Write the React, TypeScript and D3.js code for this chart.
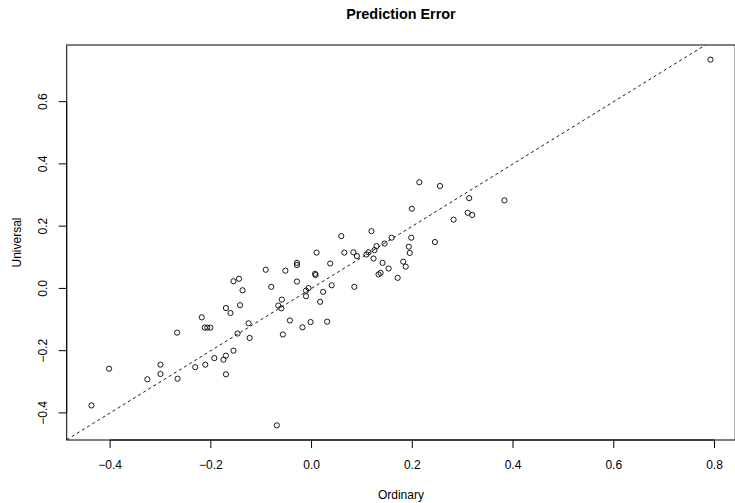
import React from "react";
import * as d3 from "d3";

// Prediction errors of the two models, one entry per observation
const ordinary: number[] = [
  -0.437, -0.402, -0.326, -0.300, -0.300, -0.266, -0.231, -0.211, -0.193, -0.175,
  -0.170, -0.155, -0.170, -0.069, -0.267, -0.218, -0.212, -0.207, -0.201, -0.170,
  -0.161, -0.142, -0.155, -0.144, -0.137, -0.125, -0.147, -0.123, -0.091, -0.080,
  -0.052, -0.029, -0.029, -0.029, 0.010, 0.007, 0.008, 0.037, 0.065, 0.083,
  0.090, 0.109, 0.113, -0.043, -0.018, -0.002, 0.031, -0.057, -0.059, -0.066,
  -0.060, -0.006, -0.011, -0.011, 0.023, 0.040, 0.017, 0.085, 0.059, 0.119,
  0.199, 0.159, 0.145, 0.129, 0.125, 0.123, 0.141, 0.153, 0.137, 0.133,
  0.171, 0.182, 0.187, 0.193, 0.195, 0.198, 0.245, 0.282, 0.310, 0.319,
  0.313, 0.214, 0.255, 0.383, 0.792,
];

const universal: number[] = [
  -0.376, -0.258, -0.292, -0.245, -0.275, -0.290, -0.253, -0.245, -0.224, -0.229,
  -0.216, -0.200, -0.276, -0.440, -0.142, -0.093, -0.126, -0.126, -0.126, -0.063,
  -0.079, -0.054, 0.023, 0.031, -0.006, -0.112, -0.145, -0.159, 0.060, 0.005,
  0.057, 0.082, 0.075, 0.022, 0.115, 0.047, 0.043, 0.080, 0.115, 0.116,
  0.104, 0.109, 0.116, -0.103, -0.125, -0.108, -0.107, -0.148, -0.036, -0.055,
  -0.064, 0.001, -0.007, -0.025, -0.011, 0.010, -0.043, 0.005, 0.168, 0.184,
  0.256, 0.163, 0.144, 0.136, 0.123, 0.096, 0.082, 0.064, 0.050, 0.045,
  0.034, 0.086, 0.070, 0.134, 0.114, 0.163, 0.149, 0.221, 0.243, 0.236,
  0.290, 0.341, 0.329, 0.283, 0.735,
];

const xTicks: number[] = [-0.4, -0.2, 0.0, 0.2, 0.4, 0.6, 0.8];
const yTicks: number[] = [-0.4, -0.2, 0.0, 0.2, 0.4, 0.6];

const title = "Prediction Error";
const xLabel = "Ordinary";
const yLabel = "Universal";

const W = 735;
const H = 503;
const plot = { left: 66.7, right: 735.2, top: 45, bottom: 440 };
const font = "'Liberation Sans', Arial, Helvetica, sans-serif";

// Extend a range by 4% on each side, as base graphics does
function padded(values: number[]): [number, number] {
  const [lo, hi] = d3.extent(values) as [number, number];
  const p = (hi - lo) * 0.04;
  return [lo - p, hi + p];
}

export default function App() {
  const x = d3.scaleLinear().domain(padded(ordinary)).range([plot.left, plot.right]);
  const y = d3.scaleLinear().domain(padded(universal)).range([plot.bottom, plot.top]);
  const fmt = d3.format(".1f");
  const fmtTick = (v: number) => fmt(v).replace("-", "\u2212");

  // Reference line y = x across the visible region
  const [x0, x1] = x.domain();
  const [y0, y1] = y.domain();
  const lo = Math.max(x0, y0);
  const hi = Math.min(x1, y1);

  const tickLen = 8;
  const points = ordinary.map((v, i) => ({ o: v, u: universal[i] }));

  return (
    <svg
      width={W}
      height={H}
      style={{ position: "absolute", left: 0, top: 0, background: "#fff" }}
      fontFamily={font}
    >
      <rect x={0} y={0} width={W} height={H} fill="#fff" />
      <defs>
        <clipPath id="plot-area">
          <rect x={plot.left} y={plot.top} width={plot.right - plot.left} height={plot.bottom - plot.top} />
        </clipPath>
      </defs>

      <text x={(plot.left + plot.right) / 2} y={19.3} textAnchor="middle" fontSize={14.4} fontWeight="bold" fill="#000">
        {title}
      </text>

      {/* diagonal reference line */}
      <line
        x1={x(lo)}
        y1={y(lo)}
        x2={x(hi)}
        y2={y(hi)}
        stroke="#000"
        strokeWidth={0.9}
        strokeDasharray="3,3"
        clipPath="url(#plot-area)"
      />

      {/* points */}
      <g fill="none" stroke="#000" strokeWidth={0.9}>
        {points.map((p, i) => (
          <circle key={i} cx={x(p.o)} cy={y(p.u)} r={2.6} />
        ))}
      </g>

      {/* frame */}
      <rect
        x={plot.left}
        y={plot.top}
        width={plot.right - plot.left}
        height={plot.bottom - plot.top}
        fill="none"
        stroke="#000"
        strokeWidth={1}
      />

      {/* x axis */}
      <g stroke="#000" strokeWidth={1}>
        <line x1={x(xTicks[0])} x2={x(xTicks[xTicks.length - 1])} y1={plot.bottom} y2={plot.bottom} />
        {xTicks.map((t) => (
          <line key={t} x1={x(t)} x2={x(t)} y1={plot.bottom} y2={plot.bottom + tickLen} />
        ))}
      </g>
      {xTicks.map((t) => (
        <text key={t} x={x(t)} y={468.5} textAnchor="middle" fontSize={12} fill="#000">
          {fmtTick(t)}
        </text>
      ))}
      <text x={(plot.left + plot.right) / 2} y={498.5} textAnchor="middle" fontSize={12} fill="#000">
        {xLabel}
      </text>

      {/* y axis */}
      <g stroke="#000" strokeWidth={1}>
        <line x1={plot.left} x2={plot.left} y1={y(yTicks[0])} y2={y(yTicks[yTicks.length - 1])} />
        {yTicks.map((t) => (
          <line key={t} x1={plot.left - tickLen} x2={plot.left} y1={y(t)} y2={y(t)} />
        ))}
      </g>
      {yTicks.map((t) => (
        <text
          key={t}
          transform={`translate(46.6,${y(t)}) rotate(-90)`}
          textAnchor="middle"
          fontSize={12}
          fill="#000"
        >
          {fmtTick(t)}
        </text>
      ))}
      <text
        transform={`translate(20.6,${(plot.top + plot.bottom) / 2}) rotate(-90)`}
        textAnchor="middle"
        fontSize={12}
        fill="#000"
      >
        {yLabel}
      </text>
    </svg>
  );
}
